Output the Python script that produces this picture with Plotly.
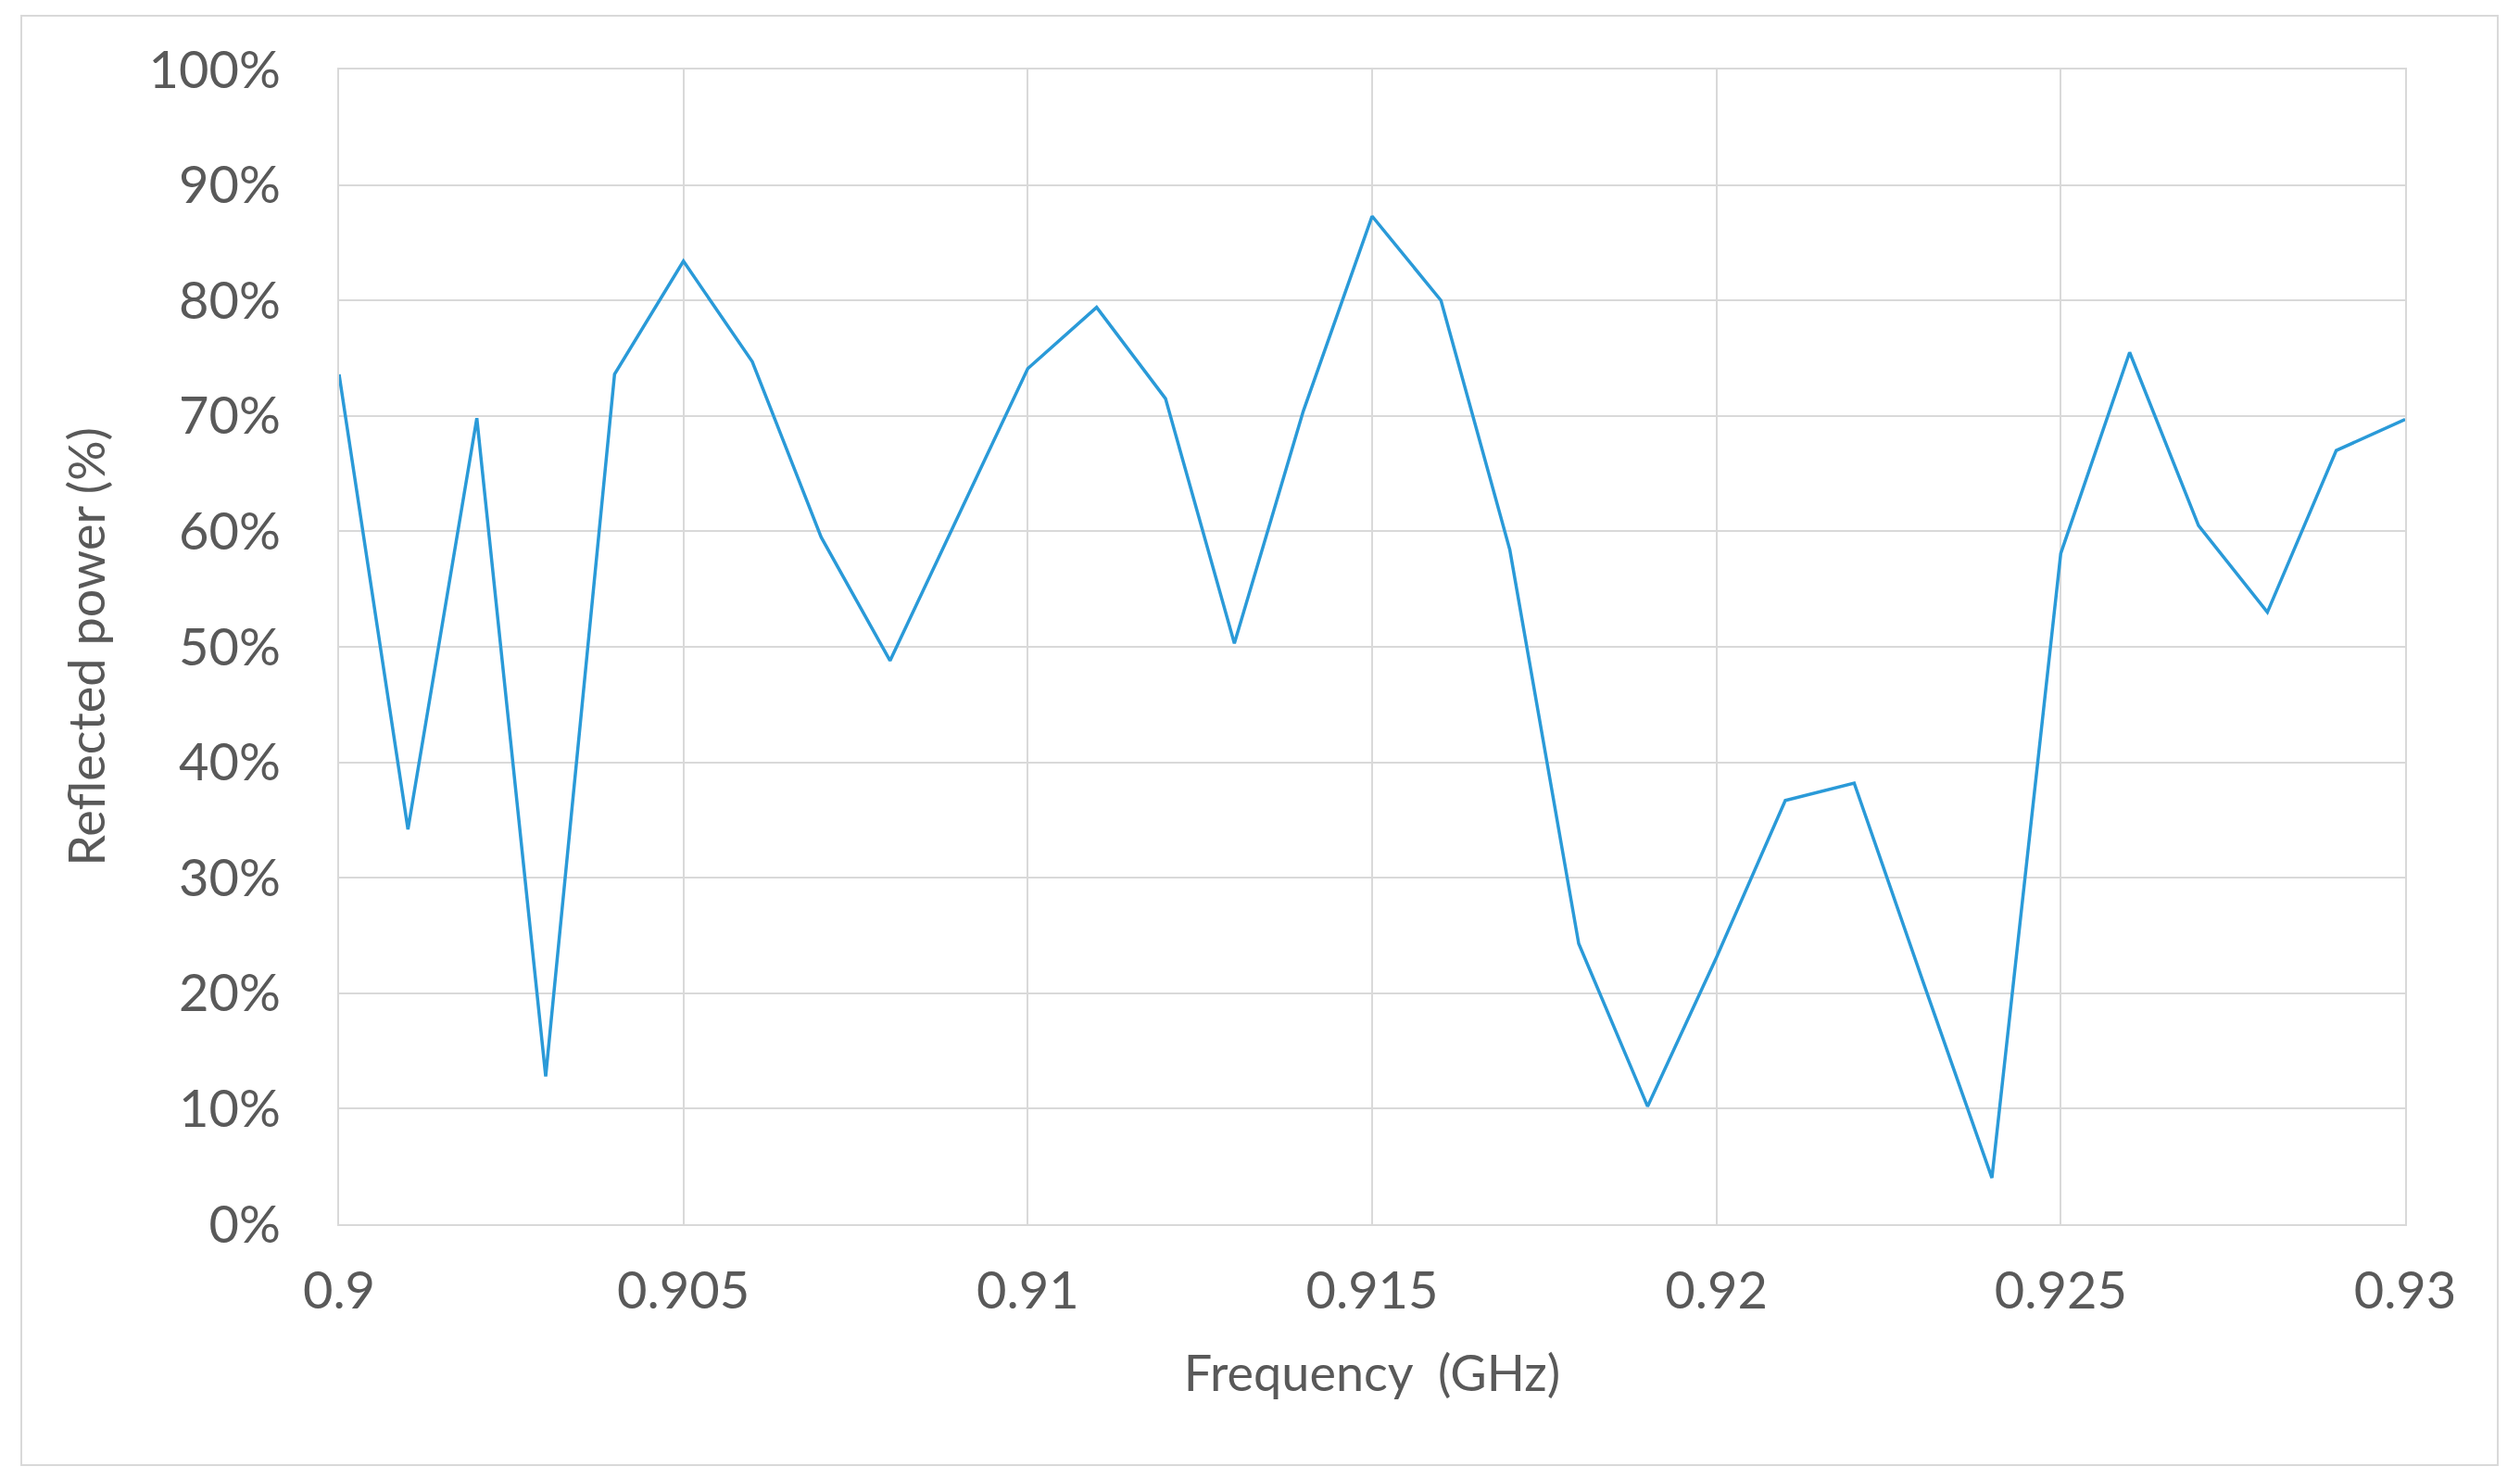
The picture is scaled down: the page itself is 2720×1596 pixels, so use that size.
import plotly.graph_objects as go

freq = [0.900,0.901,0.902,0.903,0.904,0.905,0.906,0.907,0.908,0.909,0.910,0.911,0.912,0.913,0.914,0.915,
        0.916,0.917,0.918,0.919,0.920,0.921,0.922,0.923,0.924,0.925,0.926,0.927,0.928,0.929,0.930]
reflected = [73.6,34.2,69.8,12.8,73.6,83.4,74.7,59.5,48.8,61.5,74.1,79.4,71.5,50.3,70.4,87.3,
             80.0,58.4,24.3,10.2,23.1,36.7,38.2,21.0,4.0,58.1,75.5,60.5,53.0,67.0,69.7]
x_ticks = [0.9,0.905,0.91,0.915,0.92,0.925,0.93]
x_labels = ["0.9","0.905","0.91","0.915","0.92","0.925","0.93"]
y_ticks = [0,10,20,30,40,50,60,70,80,90,100]
y_labels = [f"{v}%" for v in y_ticks]

W, H = 2720, 1596
L, R, T, B = 358, 132, 67, 283
pw, ph = W - L - R, H - T - B

fig = go.Figure(go.Scatter(x=freq, y=reflected, mode="lines",
                           line=dict(color="#2A9AD8", width=3.5)))
grid = "#D9D9D9"
font = dict(family="Lato, Open Sans, sans-serif", color="#595959")
fig.update_layout(
    width=W, height=H, margin=dict(l=L, r=R, t=T, b=B),
    paper_bgcolor="white", plot_bgcolor="white", showlegend=False,
    font=font,
    xaxis=dict(range=[0.9, 0.93], tickvals=x_ticks, ticktext=x_labels,
               showgrid=True, gridcolor=grid, gridwidth=2, zeroline=False,
               showline=True, linecolor=grid, linewidth=2, mirror=True,
               tickfont=dict(size=56), ticks="outside", ticklen=22, tickcolor="rgba(0,0,0,0)",
               title=dict(text="Frequency  (GHz)", font=dict(size=54), standoff=40)),
    yaxis=dict(range=[0, 100], tickvals=y_ticks, ticktext=y_labels,
               showgrid=True, gridcolor=grid, gridwidth=2, zeroline=False,
               showline=True, linecolor=grid, linewidth=2, mirror=True,
               tickfont=dict(size=56), ticks="outside", ticklen=50, tickcolor="rgba(0,0,0,0)",
               title=dict(text="Reflected power (%)", font=dict(size=54), standoff=30)),
)
bx0, bx1 = 15, 2688
by0, by1 = 9, 1573
fig.add_shape(type="rect", xref="paper", yref="paper",
              x0=(bx0 - L) / pw, x1=(bx1 - L) / pw,
              y0=(H - B - by1) / ph, y1=(H - B - by0) / ph,
              line=dict(color="#D9D9D9", width=2), layer="below")
fig.write_html("out.html")
